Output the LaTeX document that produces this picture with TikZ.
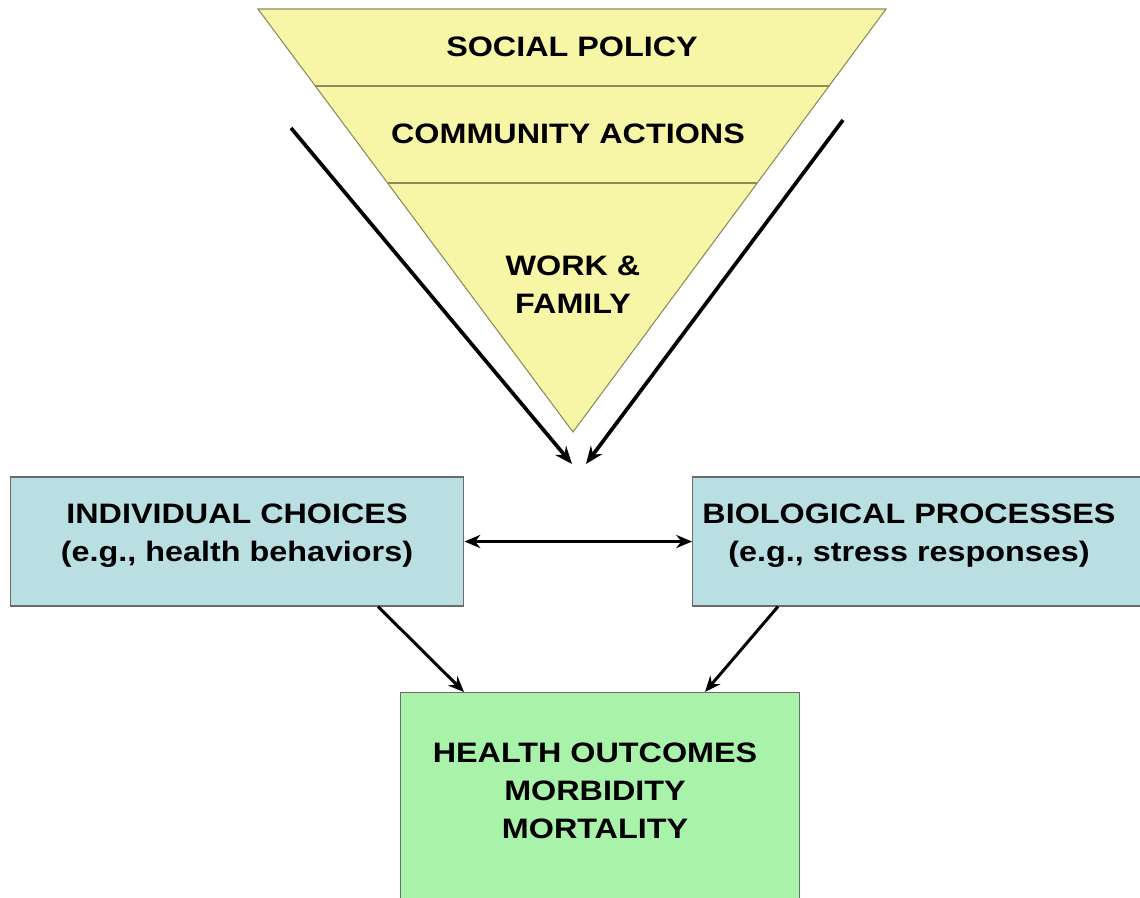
\documentclass[tikz,border=0pt]{standalone}
\usepackage{fontspec}
\setmainfont{Liberation Sans}[FakeStretch=1.15]
\usepackage{tikz}
\usetikzlibrary{positioning,arrows.meta,calc}
\definecolor{funnelyellow}{HTML}{F7F5A6}
\definecolor{funneledge}{HTML}{8A8A5C}
\definecolor{boxblue}{HTML}{BADFE3}
\definecolor{boxgreen}{HTML}{A9F2AA}
\definecolor{boxedge}{HTML}{6A6A6A}

\tikzset{
  lbl/.style={font=\fontsize{16}{21.6}\selectfont\bfseries, align=center, inner sep=0pt},
  factor/.style={draw=boxedge, line width=0.6pt, fill=boxblue, minimum height=2.58cm},
  outcome/.style={draw=boxedge, line width=0.6pt, fill=boxgreen, minimum width=8cm, minimum height=4.3cm},
  flow/.style={-{Stealth[length=10pt,width=8pt]}, line width=2.1pt},
  link/.style={-{Stealth[length=9pt,width=7.5pt]}, line width=1.7pt},
}

\begin{document}
\begin{tikzpicture}[x=0.02cm, y=-0.02cm]
\clip (0,0) rectangle (1140,897);

% Funnel of levels
\fill[funnelyellow] (258,9) -- (886,9) -- (573,432) -- cycle;
\draw[funneledge, line width=0.6pt] (258,9) -- (886,9) -- (573,432) -- cycle;
\draw[funneledge, line width=0.6pt] (315,86) -- (829,86);
\draw[funneledge, line width=0.6pt] (388,183) -- (757,183);

\node[lbl] (policy) at (572,47) {SOCIAL POLICY};
\node[lbl] (community) at (568,134) {COMMUNITY ACTIONS};
\node[lbl] (family) at (573,285) {WORK \&\\FAMILY};

% Arrows along the funnel
\coordinate (lstart) at (291,128);
\coordinate (lend) at (572,464);
\coordinate (rstart) at (843,120);
\coordinate (rend) at (586,464);
\draw[flow] (lstart) -- (lend);
\draw[flow] (rstart) -- (rend);

% Pathways
\node[factor, minimum width=9.08cm] (choices) at (237,541.5) {};
\node[factor, minimum width=9.2cm, anchor=west] (biology) at (692,541.5) {};
\node[lbl] (choicestext) at (237,536) {INDIVIDUAL CHOICES\\(e.g., health behaviors)};
\node[lbl] (biologytext) at (909,536) {BIOLOGICAL PROCESSES\\(e.g., stress responses)};

\draw[link, {Stealth[length=9pt,width=7.5pt]}-{Stealth[length=9pt,width=7.5pt]}] (choices.east) -- (biology.west);

% Outcomes
\node[outcome, anchor=north] (health) at (600,692) {};
\node[lbl] (healthtext) at (595,791) {HEALTH OUTCOMES\\MORBIDITY\\MORTALITY};

\draw[link] ($(choices.south)+(141,0)$) -- ($(health.north)+(-136,0)$);
\draw[link] ($(biology.south west)+(86,0)$) -- ($(health.north)+(105,0)$);
\end{tikzpicture}
\end{document}
